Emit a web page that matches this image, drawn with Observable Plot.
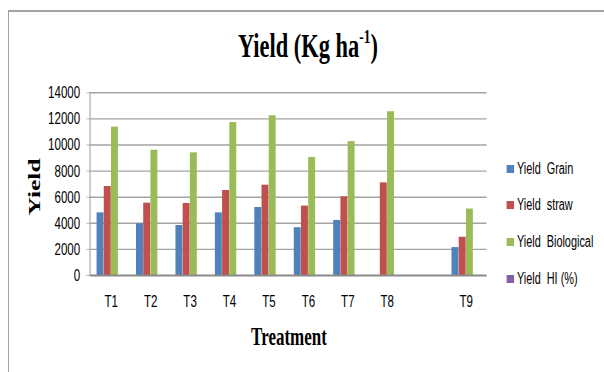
<!DOCTYPE html>
<html>
<head>
<meta charset="utf-8">
<script src="https://cdn.jsdelivr.net/npm/d3@7"></script>
<script src="https://cdn.jsdelivr.net/npm/@observablehq/plot@0.6"></script>
<style>
  html, body { margin: 0; padding: 0; background: #fff; }
  #wrap { position: relative; width: 604px; height: 372px; overflow: hidden; background: #fff; }
  .border { position: absolute; background: #a3a3a3; }
  #stage { position: absolute; left: 0; top: 0; height: 372px; transform-origin: 0 0; }
  #stage svg { position: absolute; left: 0; top: 0; }
  .serif { font-family: "Liberation Serif", "Times New Roman", serif; font-weight: bold; color: #000; position: absolute; white-space: nowrap; line-height: 1; }
  .legend-row { position: absolute; display: flex; align-items: center; height: 20px; font-family: "Liberation Sans", Arial, sans-serif; font-size: 16px; color: #000; white-space: pre; }
  .legend-row .sw { width: 11px; height: 8px; margin-right: 4px; flex: none; }
</style>
</head>
<body>
<div id="wrap">
  <div class="border" style="left:8px; top:10px; width:596px; height:1.5px;"></div>
  <div class="border" style="left:7.5px; top:10px; width:1.5px; height:362px;"></div>
  <div id="stage"></div>
</div>
<script>
// Yield of each treatment (kg/ha); the unlabeled slot stays empty
const treatments = ["T1", "T2", "T3", "T4", "T5", "T6", "T7", "T8", "", "T9"];
const grain      = [4800, 3960, 3830, 4800, 5210, 3660, 4220, null, null, 2140];
const straw      = [6820, 5540, 5520, 6510, 6920, 5320, 6030, 7100, null, 2930];
const biological = [11370, 9600, 9400, 11720, 12240, 9040, 10260, 12550, null, 5090];
const hi         = [null, null, null, null, null, null, null, null, null, null];

const seriesNames = ["Yield  Grain", "Yield  straw", "Yield  Biological", "Yield  HI (%)"];
const seriesColors = ["#4f81bd", "#c0504d", "#9bbb59", "#8064a2"];
const yTicks = [0, 2000, 4000, 6000, 8000, 10000, 12000, 14000];

const seriesValues = [grain, straw, biological, hi];
const rows = [];
seriesValues.forEach((vals, s) => {
  vals.forEach((v, i) => {
    if (v != null) rows.push({treatment: treatments[i], series: seriesNames[s], value: v});
  });
});

// Horizontal squeeze applied to the whole drawing
const S = 0.68;
const W = 604 / S, H = 372;
const marginLeft = 90 / S, marginRight = W - 486.6 / S, marginTop = 92.3, marginBottom = 97;

// Clustered bars: gap between groups is 1.5 bar widths
const nS = seriesNames.length;
const PAD_IN = 1.5 / (nS + 1.5);
const step = (W - marginLeft - marginRight) / treatments.length;
const barW = step * (1 - PAD_IN) / nS;

const stage = document.getElementById("stage");
stage.style.width = W + "px";
stage.style.transform = `scaleX(${S})`;

const barMarks = seriesNames.map((name, i) =>
  Plot.barY(rows.filter(d => d.series === name), {
    x: "treatment", y: "value", fill: seriesColors[i],
    insetLeft: i * barW, insetRight: (nS - 1 - i) * barW
  })
);

const plot = Plot.plot({
  width: W, height: H,
  marginLeft, marginRight, marginTop, marginBottom,
  style: {fontSize: "17px", fontFamily: "'Liberation Sans', Arial, sans-serif", color: "#000", background: "transparent", overflow: "visible"},
  x: {type: "band", domain: treatments, paddingInner: PAD_IN, paddingOuter: PAD_IN / 2, label: null},
  y: {domain: [0, 14000], label: null},
  marks: [
    Plot.ruleY(yTicks.filter(d => d > 0), {stroke: "#a3a3a3", strokeWidth: 1.4}),
    ...barMarks,
    Plot.ruleY([0], {stroke: "#8a8a8a", strokeWidth: 2.2}),
    Plot.axisY({ticks: yTicks, tickSize: 5, tickPadding: 10, tickFormat: d3.format("d"), stroke: "#a3a3a3", fill: "#000", fontSize: 17, label: null}),
    Plot.axisX({tickSize: 0, tickPadding: 19, tickFormat: d => d, fill: "#000", fontSize: 17, label: null})
  ]
});

// vertical value-axis line along the left edge of the plot area
const yScale = plot.scale("y");
d3.select(plot).append("line")
  .attr("x1", marginLeft).attr("x2", marginLeft)
  .attr("y1", yScale.apply(14000)).attr("y2", yScale.apply(0))
  .attr("stroke", "#a3a3a3").attr("stroke-width", 1.6);

stage.appendChild(plot);

// Title
const title = document.createElement("div");
title.className = "serif";
title.style.fontSize = "33px";
title.style.left = (308 / S - 300) + "px";
title.style.width = "600px";
title.style.textAlign = "center";
title.style.top = (58 - 0.8375 * 33) + "px";
title.innerHTML = 'Yield (Kg ha<span style="font-size:0.6em; position:relative; top:-0.75em;">-1</span>)';
stage.appendChild(title);

// X axis title
const xTitle = document.createElement("div");
xTitle.className = "serif";
xTitle.style.fontSize = "25px";
xTitle.style.left = (289 / S - 150) + "px";
xTitle.style.width = "300px";
xTitle.style.textAlign = "center";
xTitle.style.top = (345 - 0.8375 * 25) + "px";
xTitle.textContent = "Treatment";
stage.appendChild(xTitle);

// Y axis title
const yTitle = document.createElement("div");
yTitle.className = "serif";
yTitle.style.fontSize = "25.5px";
yTitle.style.left = (34.5 / S) + "px";
yTitle.style.top = "187px";
yTitle.style.transform = "translate(-50%, -50%) rotate(-90deg)";
yTitle.textContent = "Yield";
stage.appendChild(yTitle);

// Legend
seriesNames.forEach((name, i) => {
  const row = document.createElement("div");
  row.className = "legend-row";
  row.style.left = (506.7 / S) + "px";
  row.style.top = (168.7 + 36.6 * i - 10) + "px";
  const sw = document.createElement("div");
  sw.className = "sw";
  sw.style.background = seriesColors[i];
  const label = document.createElement("span");
  label.textContent = name;
  row.appendChild(sw);
  row.appendChild(label);
  stage.appendChild(row);
});
</script>
</body>
</html>
